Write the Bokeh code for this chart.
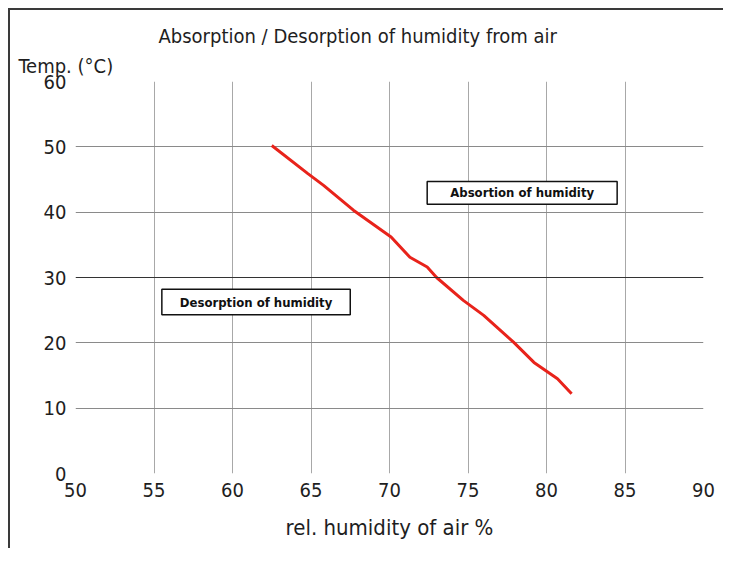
from bokeh.plotting import figure
from bokeh.models import Range1d, FixedTicker, Span, Title
from bokeh.core.properties import value
from bokeh.embed import file_html
from bokeh.resources import INLINE

# data
humidity = [62.5, 64.8, 65.8, 67.7, 70.1, 71.3, 72.4, 73.0, 74.7, 76.0, 77.9, 79.2, 79.8, 80.7, 81.6]
temperature = [50.2, 45.9, 44.1, 40.3, 36.2, 33.1, 31.6, 30.0, 26.5, 24.2, 20.1, 17.0, 16.0, 14.5, 12.2]
x_ticks = [50, 55, 60, 65, 70, 75, 80, 85, 90]
y_ticks = [0, 10, 20, 30, 40, 50, 60]
box_texts = ["Absortion of humidity", "Desorption of humidity"]
box_left = [72.4, 55.5]
box_right = [84.5, 67.5]
box_bottom = [41.2, 24.3]
box_top = [44.7, 28.2]

FONT = "DejaVu Sans Condensed"
TXT = "#1e1e1e"

p = figure(width=715, height=540, output_backend="svg", toolbar_location=None,
           x_range=Range1d(50, 90), y_range=Range1d(0, 60),
           min_border_left=65, min_border_right=22, min_border_top=71, min_border_bottom=77)
p.styles = {"border-top": "2px solid #3a3a3a", "border-left": "2px solid #3a3a3a",
            "margin-left": "8px", "margin-top": "8px"}
p.outline_line_color = None

p.title.text = "Absorption / Desorption of humidity from air"
p.title.text_font = FONT
p.title.text_font_size = "20px"
p.title.text_font_style = "normal"
p.title.text_color = TXT
p.title.offset = 83
p.title.standoff = 0
p.add_layout(Title(text="Temp. (°C)", text_font=FONT,
                   text_font_size="20px", text_font_style="normal", text_color=TXT,
                   offset=-57, standoff=8), "above")

for ax in (p.xaxis[0], p.yaxis[0]):
    ax.axis_line_color = None
    ax.major_tick_line_color = None
    ax.minor_tick_line_color = None
    ax.major_label_text_font = FONT
    ax.major_label_text_font_size = "20px"
    ax.major_label_text_color = TXT
    ax.axis_label_text_font = FONT
    ax.axis_label_text_font_style = "normal"
    ax.axis_label_text_color = TXT

p.xaxis.ticker = FixedTicker(ticks=x_ticks)
p.yaxis.ticker = FixedTicker(ticks=y_ticks)
p.xaxis.major_label_standoff = 3
p.yaxis.major_label_standoff = 3
p.xaxis.axis_label = "rel. humidity of air %"
p.xaxis.axis_label_text_font_size = "22px"
p.xaxis.axis_label_standoff = 15

p.xgrid.ticker = FixedTicker(ticks=[50, 55, 60, 65, 70, 75, 80, 85])
p.xgrid.grid_line_color = "#a8a8a8"
p.xgrid.grid_line_width = 1
p.ygrid.ticker = FixedTicker(ticks=[0, 10, 20, 40, 50])
p.ygrid.grid_line_color = "#8a8a8a"
p.ygrid.grid_line_width = 1
p.add_layout(Span(location=30, dimension="width", line_color="#333333", line_width=1.2))

p.line(humidity, temperature, line_color="#e8231b", line_width=3)

p.quad(left=box_left, right=box_right, bottom=box_bottom, top=box_top,
       fill_color="white", line_color="#111111", line_width=1.5)
p.text(x=[(l + r) / 2 for l, r in zip(box_left, box_right)],
       y=[(b + t) / 2 for b, t in zip(box_bottom, box_top)],
       text=box_texts, text_align="center", text_baseline="middle",
       text_font=value(FONT), text_font_size="13px", text_font_style="bold",
       text_color="#111111")

open("out.html", "w").write(file_html(p, INLINE))
